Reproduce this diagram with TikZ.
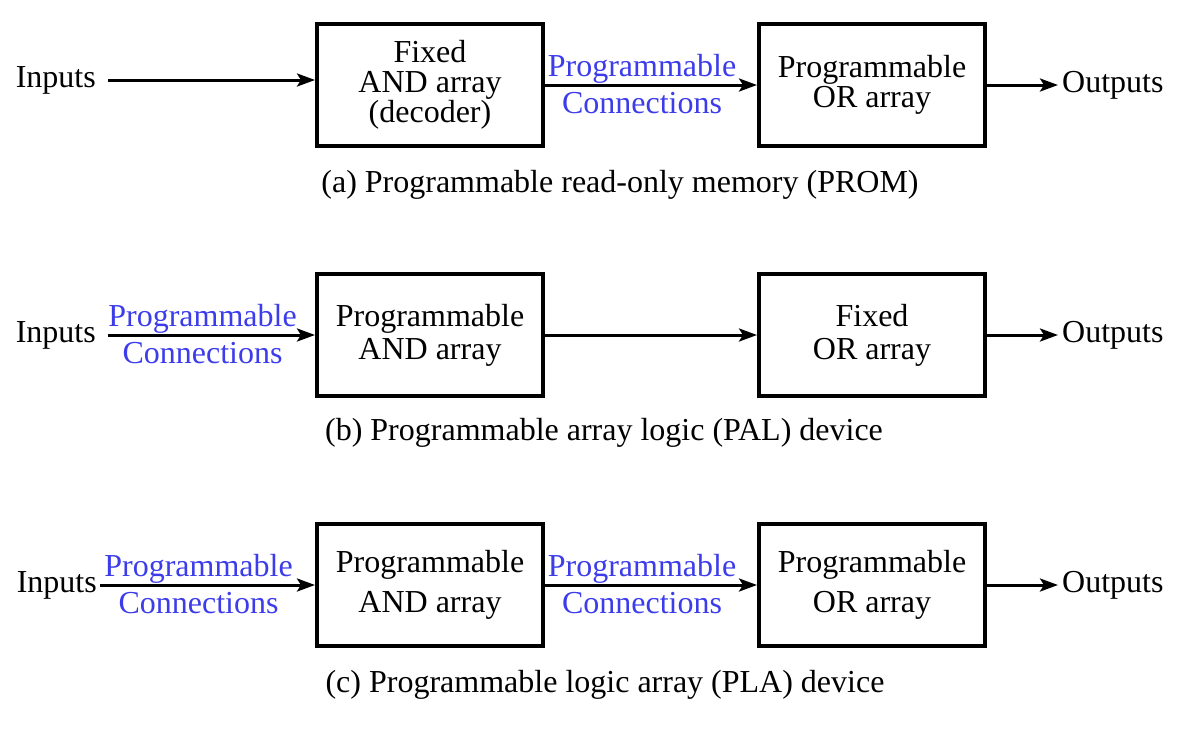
\documentclass[tikz,border=0pt]{standalone}
\usepackage{fontspec}
\setmainfont{Liberation Serif}
\usetikzlibrary{arrows.meta, positioning}
\definecolor{progblue}{RGB}{60,60,235}

\begin{document}
\begin{tikzpicture}[
  x=1pt, y=-1pt,
  font=\fontsize{32}{33}\selectfont,
  block/.style={draw, line width=4pt, minimum width=226pt, minimum height=122pt,
                align=center, inner sep=0pt},
  io/.style={inner ysep=0pt, inner xsep=12pt},
  arr/.style={-{Stealth[length=18pt, width=13pt, inset=4pt]}, line width=3pt},
  prog/.style={text=progblue, inner sep=0pt, xshift=-9pt},
  caption/.style={inner sep=0pt}
]
\useasboundingbox (0,0) rectangle (1186,732);

% (a) PROM
\node[block] (andA) at (430,85)
  {Fixed\\[-3pt] AND array\\[-3pt] (decoder)};
\node[block] (orA) at (872,85)
  {Programmable\\[-3pt] OR array};
\node[io, anchor=east] (inA) at (108,80) {Inputs};
\node[io, anchor=west, inner xsep=4pt] (outA) at (1058,85) {Outputs};
\draw[arr] (inA.east) -- (inA.east -| andA.west);
\draw[arr] (andA) -- node[prog, above=0pt]{Programmable}
                     node[prog, below=6pt]{Connections} (orA);
\draw[arr] (orA) -- (outA);
\node[caption] (capA) at (620,185) {(a) Programmable read-only memory (PROM)};

% (b) PAL
\node[block] (andB) at (430,335)
  {Programmable\\ AND array};
\node[block] (orB) at (872,335)
  {Fixed\\ OR array};
\node[io, anchor=east] (inB) at (108,335) {Inputs};
\node[io, anchor=west, inner xsep=4pt] (outB) at (1058,335) {Outputs};
\draw[arr] (inB) -- node[prog, above=0pt]{Programmable}
                    node[prog, below=6pt]{Connections} (andB);
\draw[arr] (andB) -- (orB);
\draw[arr] (orB) -- (outB);
\node[caption] (capB) at (604,433) {(b) Programmable array logic (PAL) device};

% (c) PLA
\node[block] (andC) at (430,585)
  {Programmable\\[7pt] AND array};
\node[block] (orC) at (872,585)
  {Programmable\\[7pt] OR array};
\node[io, anchor=east, inner xsep=3pt] (inC) at (100,585) {Inputs};
\node[io, anchor=west, inner xsep=4pt] (outC) at (1058,585) {Outputs};
\draw[arr] (inC) -- node[prog, above=0pt]{Programmable}
                    node[prog, below=6pt]{Connections} (andC);
\draw[arr] (andC) -- node[prog, above=0pt]{Programmable}
                     node[prog, below=6pt]{Connections} (orC);
\draw[arr] (orC) -- (outC);
\node[caption] (capC) at (605,685) {(c) Programmable logic array (PLA) device};
\end{tikzpicture}
\end{document}
